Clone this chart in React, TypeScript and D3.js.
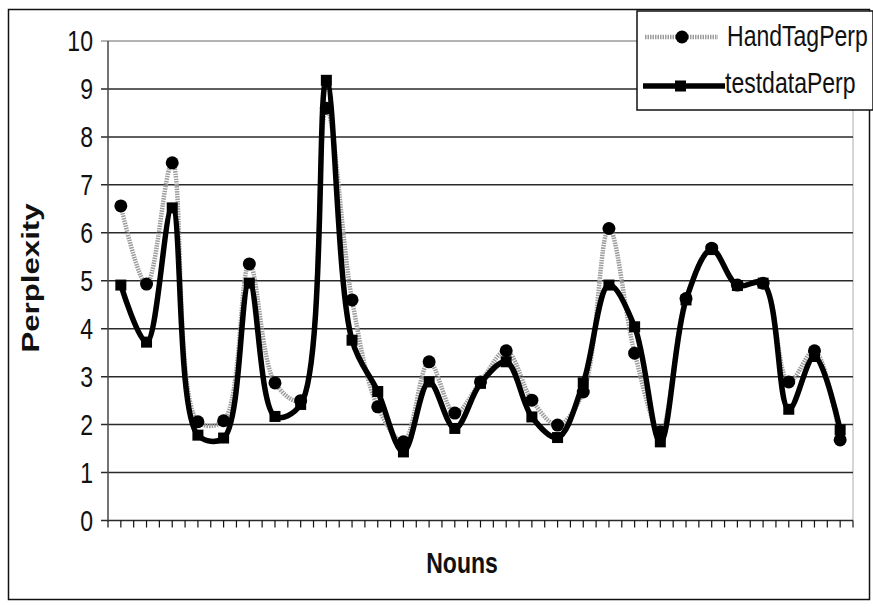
import React from "react";
import * as d3 from "d3";

const categories: number[] = d3.range(1, 30);
const handTagPerp: number[] = [6.56, 4.93, 7.46, 2.06, 2.08, 5.35, 2.87, 2.5, 8.6, 4.6, 2.37, 1.64, 3.31, 2.24, 2.89, 3.54, 2.51, 1.99, 2.68, 6.09, 3.49, 1.85, 4.63, 5.68, 4.91, 4.95, 2.89, 3.54, 1.68];
const testdataPerp: number[] = [4.91, 3.72, 6.52, 1.78, 1.72, 4.95, 2.17, 2.42, 9.18, 3.76, 2.69, 1.43, 2.89, 1.92, 2.86, 3.31, 2.16, 1.73, 2.87, 4.91, 4.04, 1.64, 4.6, 5.65, 4.9, 4.95, 2.32, 3.42, 1.89];
const yTicks: number[] = d3.range(0, 11);
const seriesNames: string[] = ["HandTagPerp", "testdataPerp"];

const W = 873;
const H = 607;
const plot = { left: 108, right: 853, top: 41, bottom: 520.5 };
const FONT = "'Liberation Sans', Arial, sans-serif";
const SX = 0.96;
const SY = 1.25;

export default function App() {
  const x = d3.scaleBand<number>().domain(categories).range([plot.left, plot.right]);
  const cx = (c: number) => (x(c) as number) + x.bandwidth() / 2;
  const y = d3.scaleLinear().domain([0, 10]).range([plot.bottom, plot.top]);
  const line = d3
    .line<number>()
    .x((_, i) => cx(categories[i]))
    .y((d) => y(d))
    .curve(d3.curveCatmullRom.alpha(0.5));

  const halfTicks = d3.range(0, categories.length * 2 + 1).map((k) => plot.left + (k * x.bandwidth()) / 2);

  return (
    <svg width={W} height={H} style={{ position: "absolute", left: 0, top: 0, background: "#fff" }}>
      <rect x={0} y={0} width={W} height={H} fill="#fff" />
      {/* outer chart border */}
      <rect x={8.5} y={9.5} width={861} height={590} fill="none" stroke="#111" strokeWidth={1.5} />
      {/* plot area right border */}
      <line x1={plot.right} x2={plot.right} y1={plot.top} y2={plot.bottom} stroke="#c8c8c8" strokeWidth={1.5} />
      {/* gridlines */}
      {yTicks.map((t) => (
        <line
          key={"g" + t}
          x1={plot.left - 7}
          x2={plot.right}
          y1={y(t)}
          y2={y(t)}
          stroke={t === 10 ? "#9a9a9a" : "#2a2a2a"}
          strokeWidth={1.5}
        />
      ))}
      {/* y axis */}
      <line x1={plot.left} x2={plot.left} y1={plot.top} y2={plot.bottom + 1} stroke="#444" strokeWidth={1.5} />
      {/* x ticks */}
      {halfTicks.map((tx, k) => (
        <line key={"xt" + k} x1={tx} x2={tx} y1={plot.bottom} y2={plot.bottom + 7} stroke="#111" strokeWidth={1.2} />
      ))}
      {/* y labels */}
      {yTicks.map((t) => (
        <text
          key={"yl" + t}
          transform={`translate(93,${y(t)}) scale(${SX},${SY})`}
          textAnchor="end"
          dominantBaseline="central"
          fontFamily={FONT}
          fontSize={24}
          fill="#111"
        >
          {t}
        </text>
      ))}
      {/* axis titles */}
      <text
        transform={`translate(31,278) rotate(-90) scale(1.3,${SX})`}
        textAnchor="middle"
        dominantBaseline="central"
        fontFamily={FONT}
        fontSize={24}
        fontWeight="bold"
        fill="#111"
      >
        Perplexity
      </text>
      <text
        transform={`translate(462,563) scale(${SX},${SY})`}
        textAnchor="middle"
        dominantBaseline="central"
        fontFamily={FONT}
        fontSize={24}
        fontWeight="bold"
        fill="#111"
      >
        Nouns
      </text>

      {/* HandTagPerp series */}
      <path d={line(handTagPerp) || ""} fill="none" stroke="#9c9c9c" strokeWidth={4.5} strokeDasharray="1.5 1" />
      {/* testdataPerp series */}
      <path d={line(testdataPerp) || ""} fill="none" stroke="#000" strokeWidth={5.5} strokeLinejoin="round" />
      {testdataPerp.map((v, i) => (
        <rect key={"sq" + i} x={cx(categories[i]) - 5.5} y={y(v) - 5.5} width={11} height={11} fill="#000" />
      ))}
      {handTagPerp.map((v, i) => (
        <circle key={"c" + i} cx={cx(categories[i])} cy={y(v)} r={6.5} fill="#000" />
      ))}

      {/* legend */}
      <rect x={637} y={11} width={236} height={99} fill="#fff" stroke="#111" strokeWidth={1.5} />
      <line x1={645} x2={718} y1={37} y2={37} stroke="#9c9c9c" strokeWidth={4.5} strokeDasharray="1.5 1" />
      <circle cx={682} cy={37} r={6.5} fill="#000" />
      <text
        transform={`translate(727,36) scale(${SX},${SY})`}
        dominantBaseline="central"
        fontFamily={FONT}
        fontSize={24}
        fill="#111"
      >
        {seriesNames[0]}
      </text>
      <line x1={643} x2={725} y1={86} y2={86} stroke="#000" strokeWidth={5.5} />
      <rect x={675} y={80.5} width={11} height={11} fill="#000" />
      <text
        transform={`translate(725,83) scale(${SX},${SY})`}
        dominantBaseline="central"
        fontFamily={FONT}
        fontSize={24}
        fill="#111"
      >
        {seriesNames[1]}
      </text>
    </svg>
  );
}
